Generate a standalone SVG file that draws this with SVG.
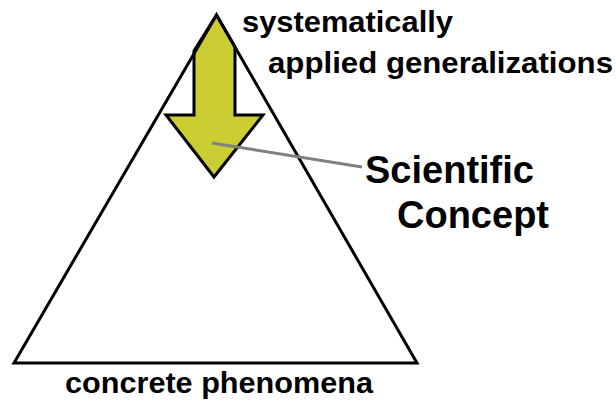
<svg xmlns="http://www.w3.org/2000/svg" width="616" height="400" viewBox="0 0 616 400">
<style>
.lbl{font-family:"Liberation Sans",Arial,sans-serif;font-weight:bold;fill:#000}
.outline{fill:none;stroke:#000;stroke-width:3;stroke-linejoin:miter}
</style>
<rect width="616" height="400" fill="#fff"/>
<g id="triangle">
<polygon points="216.5,15 14,363 417,363" fill="#fff"/>
</g>
<g id="arrow">
<polygon points="216.5,15 235,47 235,115 263,115 214,177 166,115 194,115 194,51" fill="#cccc33" stroke="#000" stroke-width="3" stroke-linejoin="miter"/>
</g>
<g id="triangle-outline">
<polygon class="outline" points="216.5,15 14,363 417,363"/>
</g>
<g id="connectors">
<line x1="212" y1="143" x2="362" y2="167" stroke="#808080" stroke-width="3"/>
</g>
<g id="label-top">
<text class="lbl" x="242" y="32" font-size="30" textLength="211" lengthAdjust="spacingAndGlyphs">systematically</text>
<text class="lbl" x="268" y="73" font-size="30" textLength="345" lengthAdjust="spacingAndGlyphs">applied generalizations</text>
</g>
<g id="label-concept">
<text class="lbl" x="365" y="183" font-size="38">Scientific</text>
<text class="lbl" x="397" y="228" font-size="38">Concept</text>
</g>
<g id="label-bottom">
<text class="lbl" x="65" y="393" font-size="30" textLength="308" lengthAdjust="spacingAndGlyphs">concrete phenomena</text>
</g>
</svg>
